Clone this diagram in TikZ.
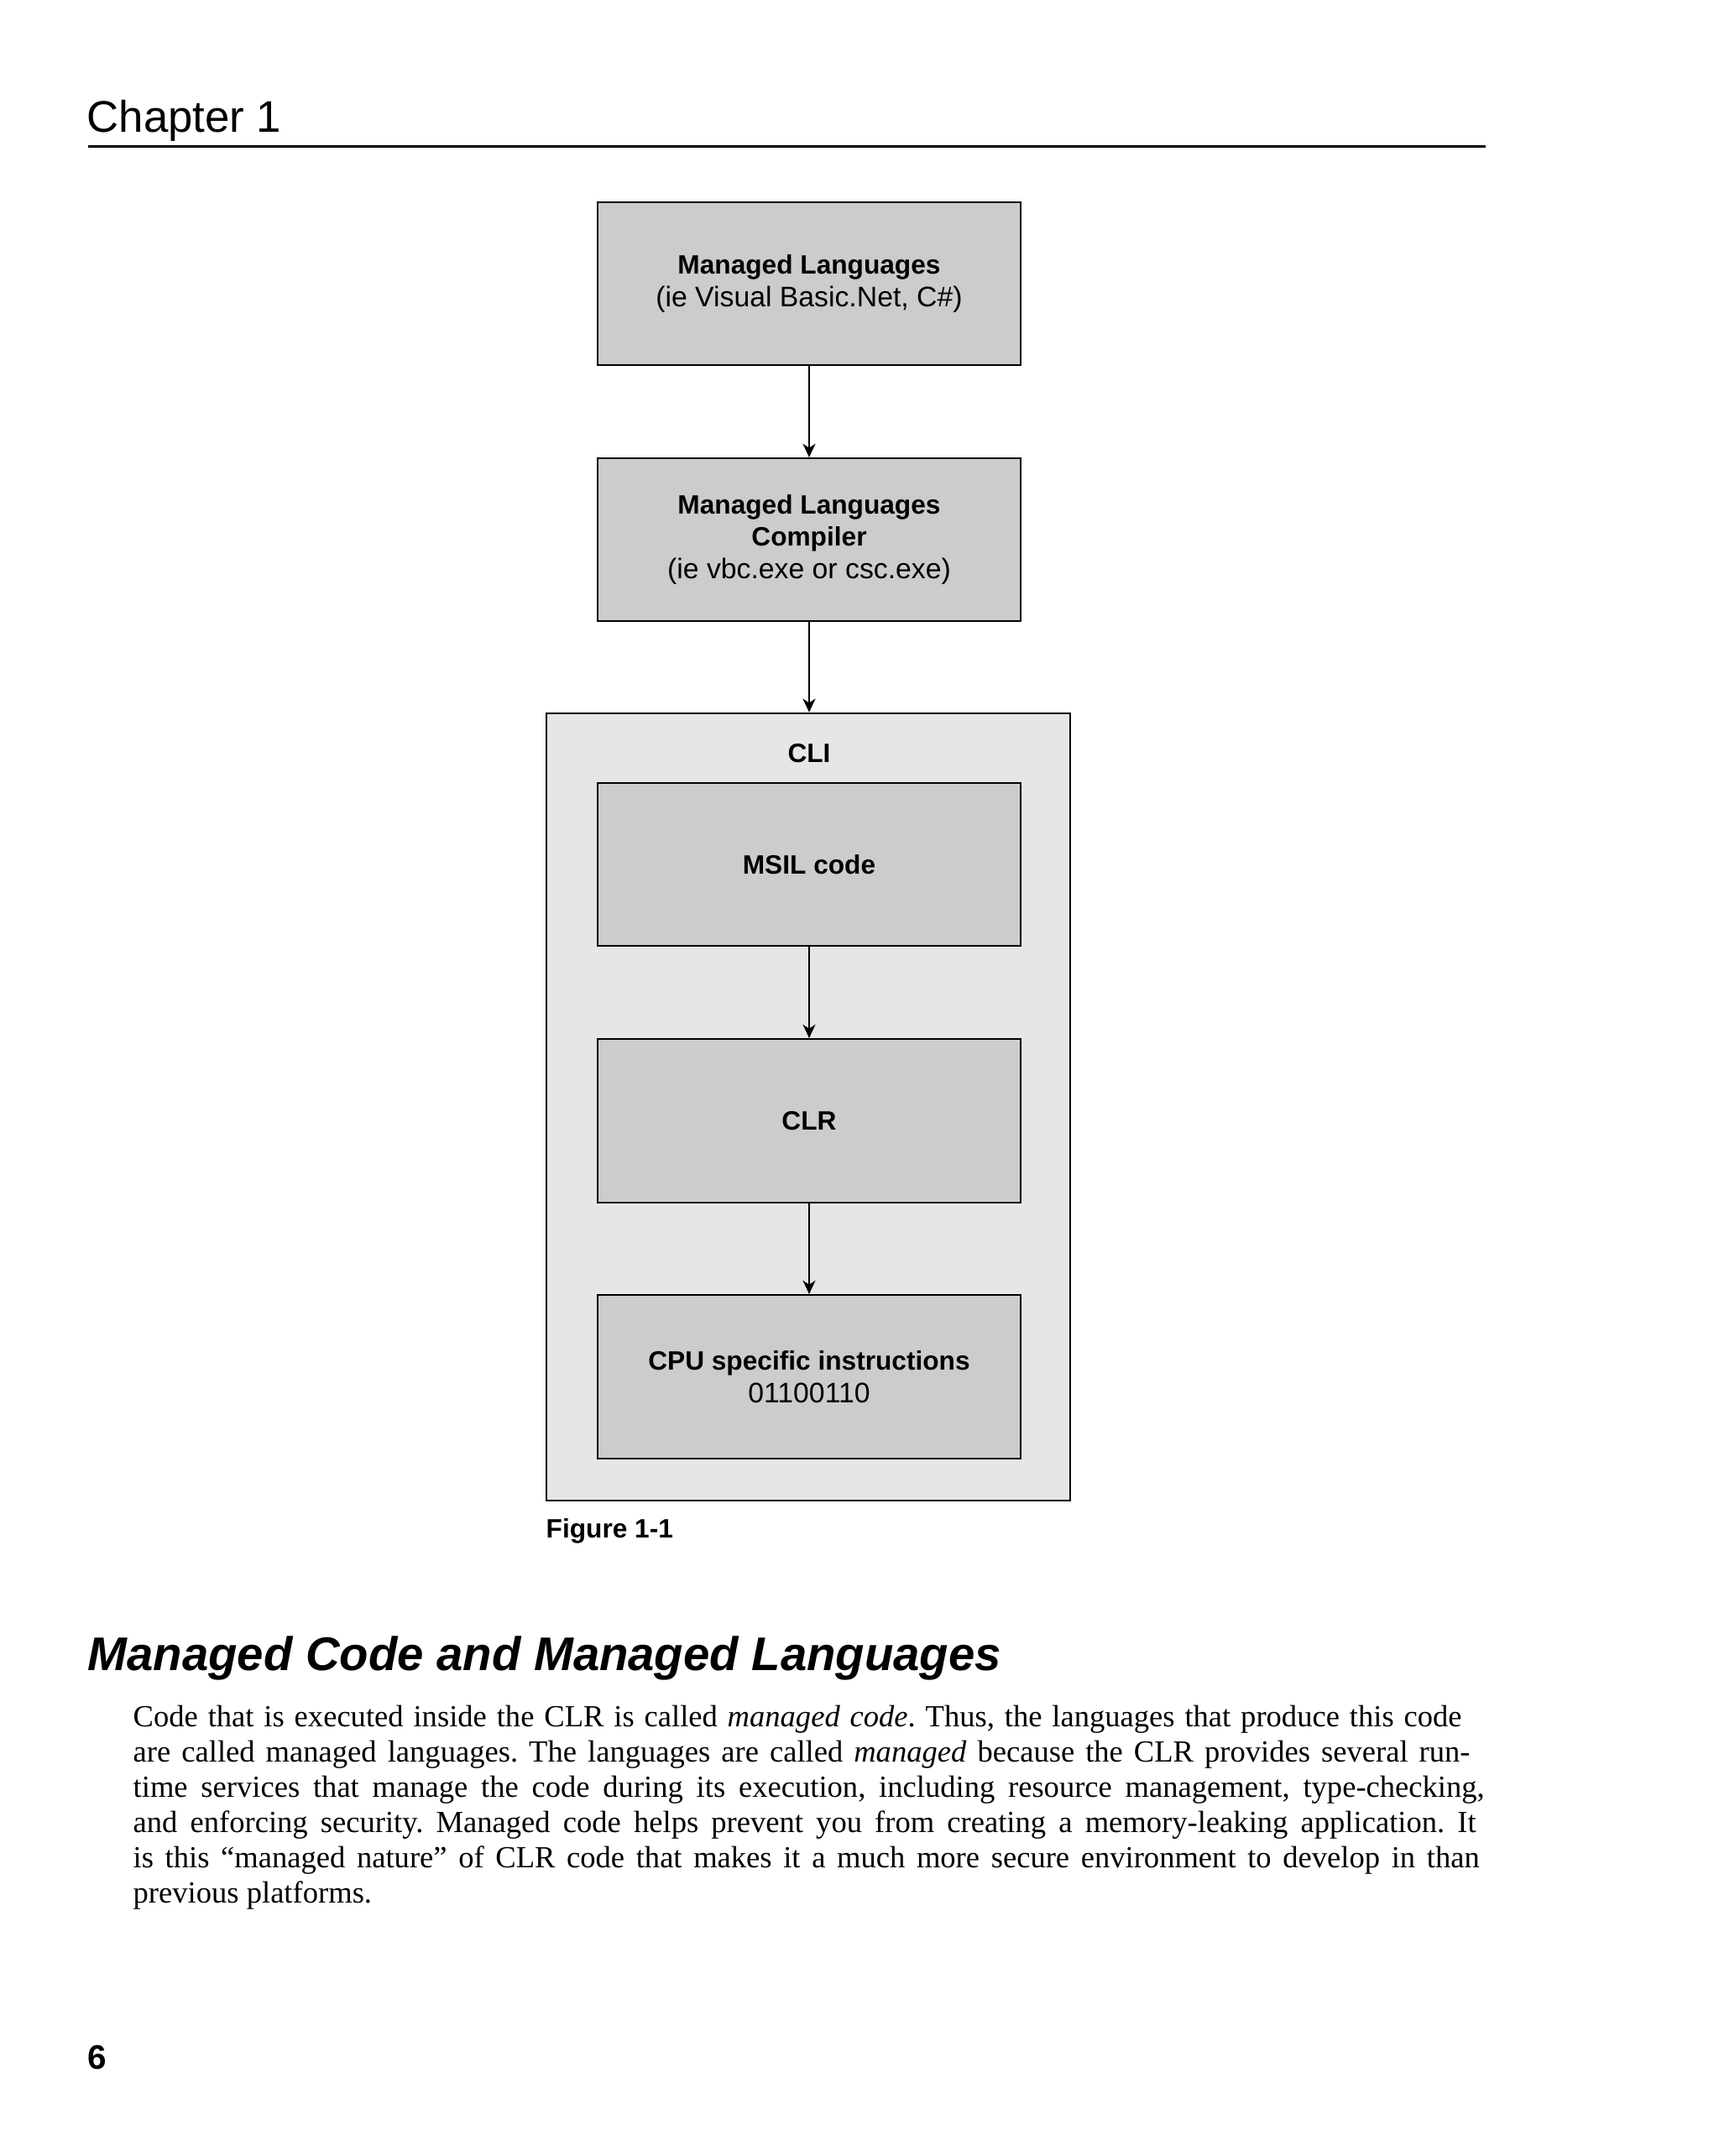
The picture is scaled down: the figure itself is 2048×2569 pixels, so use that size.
\documentclass[tikz,border=0pt]{standalone}
\usepackage{fontspec}
\setmainfont{Liberation Serif}
\setsansfont{Liberation Sans}
\usetikzlibrary{arrows.meta}
\definecolor{boxgray}{HTML}{CCCCCC}
\definecolor{cligray}{HTML}{E6E6E6}
\newcommand{\regline}[1]{{\fontsize{9.6}{11}\selectfont #1}}
\tikzset{
  boxfont/.style={font=\sffamily\fontsize{9}{11}\selectfont},
  box/.style={draw=black, line width=0.6pt, fill=boxgray, minimum width=5.04cm,
    minimum height=1.94cm, inner sep=0pt, align=center, boxfont},
  clibox/.style={draw=black, line width=0.6pt, fill=cligray, minimum width=6.24cm,
    minimum height=9.38cm, inner sep=0pt},
  arr/.style={-{Stealth[length=4.6pt,width=4.3pt,inset=1.4pt]}, line width=0.45pt},
  bodyline/.style={anchor=base west, inner sep=0pt, font=\rmfamily\fontsize{10.4}{12}\selectfont},
}
\begin{document}
\frenchspacing
\begin{tikzpicture}[x=0.01cm,y=-0.01cm]
\useasboundingbox (0,0) rectangle (2048,2569);
\fill[white] (0,0) rectangle (2048,2569);

% header
\node[anchor=base west, inner sep=0pt, font=\sffamily\fontsize{15}{18}\selectfont] (chap) at (103,157) {Chapter 1};
\draw[line width=0.85pt] (105,174) -- (1770,174);

% diagram
\node[box] (lang) at (964,338) {{\bfseries Managed Languages}\\\regline{(ie Visual Basic.Net, C\#)}};
\node[box] (comp) at (964,643) {{\bfseries Managed Languages}\\{\bfseries Compiler}\\\regline{(ie vbc.exe or csc.exe)}};
\node[clibox] (cli) at (963,1319) {};
\node[anchor=base, inner sep=0pt, font=\sffamily\bfseries\fontsize{9}{11}\selectfont] (clititle) at (964,908) {CLI};
\node[box] (msil) at (964,1030) {\bfseries MSIL code};
\node[box, minimum height=1.95cm] (clr) at (964,1335.5) {\bfseries CLR};
\node[box, minimum height=1.95cm] (cpu) at (964,1640.5) {{\bfseries CPU specific instructions}\\\regline{01100110}};

\draw[arr] (lang.south) -- (comp.north);
\draw[arr] (comp.south) -- (comp.south |- cli.north);
\draw[arr] (msil.south) -- (clr.north);
\draw[arr] (clr.south) -- (cpu.north);

\node[anchor=base west, inner sep=0pt, font=\sffamily\bfseries\fontsize{9}{11}\selectfont] (fig) at (650,1832) {Figure 1-1};

% section heading
\node[anchor=base west, inner sep=0pt, font=\sffamily\bfseries\itshape\fontsize{16}{19}\selectfont] (head) at (104,1990) {Managed Code and Managed Languages};

% body text
\node[bodyline] (l1) at (158,2057) {\makebox[15.82cm][s]{Code that is executed inside the CLR is called \textit{managed code}. Thus, the languages that produce this code}};
\node[bodyline] (l2) at (158,2099) {\makebox[15.92cm][s]{are called managed languages. The languages are called \textit{managed} because the CLR provides several run-}};
\node[bodyline] (l3) at (158,2141) {\makebox[16.09cm][s]{time services that manage the code during its execution, including resource management, type-checking,}};
\node[bodyline] (l4) at (158,2183) {\makebox[15.99cm][s]{and enforcing security. Managed code helps prevent you from creating a memory-leaking application. It}};
\node[bodyline] (l5) at (158,2225) {\makebox[16.03cm][s]{is this “managed nature” of CLR code that makes it a much more secure environment to develop in than}};
\node[bodyline] (l6) at (158,2267) {previous platforms.};

% page number
\node[anchor=base west, inner sep=0pt, font=\sffamily\bfseries\fontsize{11.5}{13}\selectfont] (page) at (104,2465) {6};
\end{tikzpicture}
\end{document}
